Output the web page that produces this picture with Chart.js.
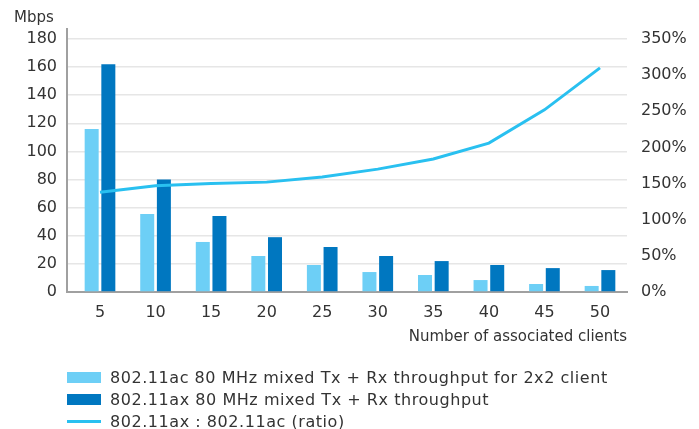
<!DOCTYPE html>
<html lang="en">
<head>
  <meta charset="UTF-8">
  <title>Throughput vs clients</title>
  <script src="https://cdn.jsdelivr.net/npm/chart.js"></script>
  <style>
    body {
      margin: 0;
      padding: 0;
      background: #fff;
      font-family: 'DejaVu Sans', sans-serif;
      color: #333;
    }
    .wrap {
      position: relative;
      width: 699px;
      height: 429px;
    }
    .unit {
      position: absolute;
      left: 14px;
      top: 8px;
      font-size: 15px;
    }
    .legend {
      position: absolute;
      left: 67px;
      top: 366px;
      font-size: 16px;
      letter-spacing: 0.55px;
    }
    .legend div {
      display: flex;
      align-items: center;
      height: 22px;
    }
    .legend span.box {
      display: inline-block;
      width: 34px;
      height: 11px;
      margin-right: 9px;
    }
    .legend span.ln {
      display: inline-block;
      width: 34px;
      height: 3px;
      margin-right: 9px;
    }
  </style>
</head>
<body>
  <div class="wrap">
    <canvas id="chart" width="699" height="429"></canvas>
    <div class="unit">Mbps</div>
    <div class="legend" id="legend"></div>
  </div>

  <script>
    const clients = [5, 10, 15, 20, 25, 30, 35, 40, 45, 50];
    const acThroughput = [116, 55.5, 35.6, 25.6, 19.2, 14.2, 12.1, 8.5, 5.7, 4.3];
    const axThroughput = [162, 80, 54, 39, 32, 25.6, 22, 19.2, 17, 15.6];
    const ratioPct = [138, 147, 150, 152, 159, 170, 184, 206, 252, 310];

    const acLabel = "802.11ac 80 MHz mixed Tx + Rx throughput for 2x2 client";
    const axLabel = "802.11ax 80 MHz mixed Tx + Rx throughput";
    const ratioLabel = "802.11ax : 802.11ac (ratio)";

    const lightBlue = "#6dcff6";
    const darkBlue = "#0077c0";
    const lineBlue = "#29c0f0";
    const tickFont = { family: "DejaVu Sans", size: 16 };

    // axis line runs a bit above the 180 / 350% gridline
    const leftMax = 180 * 263 / 253;
    const rightMax = 350 * 263 / 253;

    const ctx = document.getElementById("chart").getContext("2d");
    new Chart(ctx, {
      data: {
        labels: clients,
        datasets: [
          {
            type: "line",
            label: ratioLabel,
            data: ratioPct,
            yAxisID: "y2",
            borderColor: lineBlue,
            borderWidth: 3,
            pointRadius: 0,
            tension: 0,
            order: 0
          },
          {
            type: "bar",
            label: acLabel,
            data: acThroughput,
            yAxisID: "y",
            backgroundColor: lightBlue,
            categoryPercentage: 0.6,
            barPercentage: 0.84,
            order: 1
          },
          {
            type: "bar",
            label: axLabel,
            data: axThroughput,
            yAxisID: "y",
            backgroundColor: darkBlue,
            categoryPercentage: 0.6,
            barPercentage: 0.84,
            order: 1
          }
        ]
      },
      options: {
        responsive: false,
        animation: false,
        layout: { padding: { top: 29, bottom: 79 } },
        plugins: {
          legend: { display: false },
          tooltip: { enabled: false }
        },
        scales: {
          x: {
            type: "linear",
            offset: false,
            min: 2.03,
            max: 52.43,
            grid: { display: false },
            border: { color: "#a0a0a0", width: 2 },
            ticks: {
              stepSize: 5,
              includeBounds: false,
              color: "#333",
              font: tickFont,
              padding: 3
            },
            title: {
              display: true,
              text: "Number of associated clients",
              align: "end",
              color: "#333",
              font: { family: "DejaVu Sans", size: 15 },
              padding: { top: 2, bottom: 4 }
            },
            afterFit: s => { s.height = 58; }
          },
          y: {
            position: "left",
            min: 0,
            max: leftMax,
            grid: { color: "#e6e6e6", lineWidth: 1.5, drawTicks: false },
            border: { color: "#a0a0a0", width: 2 },
            ticks: {
              stepSize: 20,
              includeBounds: false,
              color: "#333",
              font: tickFont,
              padding: 10
            },
            afterFit: s => { s.width = 67; }
          },
          y2: {
            position: "right",
            min: 0,
            max: rightMax,
            grid: { display: false },
            border: { display: false },
            ticks: {
              stepSize: 50,
              includeBounds: false,
              color: "#333",
              font: tickFont,
              padding: 6,
              callback: v => v + "%"
            },
            afterFit: s => { s.width = 72; }
          }
        }
      }
    });

    const legend = document.getElementById("legend");
    [[acLabel, lightBlue, "box"], [axLabel, darkBlue, "box"], [ratioLabel, lineBlue, "ln"]].forEach(([text, color, kind]) => {
      const row = document.createElement("div");
      row.innerHTML = `<span class="${kind}" style="background:${color}"></span>${text}`;
      legend.appendChild(row);
    });
  </script>
</body>
</html>
